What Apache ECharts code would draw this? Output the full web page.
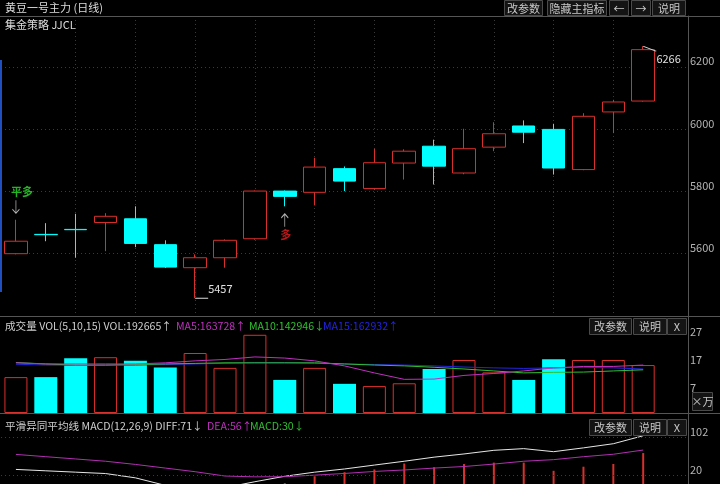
<!DOCTYPE html>
<html><head><meta charset="utf-8">
<script src="https://cdn.jsdelivr.net/npm/echarts@6/dist/echarts.min.js"></script>
<style>html,body{margin:0;padding:0;background:#000;}#c{width:720px;height:484px;}</style>
</head><body><div id="c"></div>
<script>
// ---------- data ----------
const categories = ['1','2','3','4','5','6','7','8','9','10','11','12','13','14','15','16','17','18','19','20','21','22'];
const openP  = [5600,5662,5678,5700,5712,5629,5555,5587,5648,5801,5797,5873,5809,5891,5945,5859,5942,6010,5999,5870,6055,6090];
const closeP = [5640,5661,5677,5720,5633,5557,5587,5643,5801,5784,5878,5833,5892,5929,5881,5937,5985,5990,5875,6041,6087,6255];
const lowP   = [5598,5640,5587,5608,5621,5554,5457,5555,5645,5752,5755,5801,5805,5838,5822,5855,5929,5955,5854,5868,5987,6088];
const highP  = [5709,5698,5728,5730,5752,5643,5598,5646,5803,5803,5908,5880,5937,5935,5966,6001,6022,6028,6017,6051,6094,6266];
const volume = [12.8,12.8,19.5,19.9,18.6,16.2,21.4,16.1,27.9,11.8,16.1,10.4,9.6,10.6,15.7,18.9,14.5,11.8,19.2,18.9,18.9,17.1];
const volMA5  = [17.9,17.5,17.5,17.5,17.5,17.9,18.6,19.1,20.0,19.6,18.6,16.8,14.3,12.0,12.1,13.4,14.1,15.0,16.1,16.6,16.6,17.1];
const volMA10 = [18.0,17.5,17.1,17.1,17.3,17.5,17.7,17.9,17.9,17.9,17.9,17.5,17.1,16.8,16.3,15.7,15.0,14.3,14.5,14.6,15.0,15.4];
const volMA15 = [17.4,17.1,17.0,17.0,17.1,17.3,17.5,17.7,17.9,17.9,17.7,17.5,17.3,17.1,16.8,16.4,16.1,15.9,16.1,16.3,16.1,15.7];
const diffV = [32,29,26,23,13.5,-3,-10,-8,5,17,26,33,41.6,50,59,66,74,77.7,71,79.4,88.5,106];
const deaV  = [65,60,55,50,43,35,27,17.5,15.7,16,19.4,23.2,27.6,30.8,35,38.4,43.8,50,53.5,60,65.4,74.6];
const macdV = [-64,-62,-58,-54,-59,-76,-74,-51,-21,2,17,26,32,45,37,44,47,47,29,38,44,68];
const priceTickStart = 5400, priceTickStep = 200;
const volTicks = [7,17,27];
const macdTicks = [20,102];
const signalIndex = [0, 9];
const signalText = ['平多', '多'];
const signalType = ['exit', 'long'];
const volHeader = ['成交量 VOL(5,10,15) VOL:192665↑', 'MA5:163728↑', 'MA10:142946↓', 'MA15:162932↑'];
const macdHeader = ['平滑异同平均线 MACD(12,26,9) DIFF:71↓', 'DEA:56↑', 'MACD:30↓'];

// ---------- styles ----------
const FONT = "'Microsoft YaHei','Noto Sans CJK SC','Noto Sans',sans-serif";
const UP = '#d8302c', DOWN = '#00ffff';
const MAG = '#c030c0', GRN = '#30c030', BLU = '#2424e0';
const GRIDC = '#3a3a3a', LINEC = '#555';
const xCats = categories.concat(['']);

const chart = echarts.init(document.getElementById('c'), null, {renderer: 'canvas'});

function xAx(gi, split) {
  return {
    type: 'category', gridIndex: gi, data: xCats, boundaryGap: true,
    axisLine: {show: false}, axisTick: {show: false}, axisLabel: {show: false},
    splitLine: split ? {
      show: true, alignWithLabel: true,
      interval: function (i) { return i > 0 && i % 2 === 0 && i < categories.length - 1; },
      lineStyle: {color: GRIDC, type: [1, 3], width: 1}
    } : {show: false}
  };
}
const axLabel = {color: '#b4b4b4', fontSize: 11, fontFamily: FONT, margin: 2, verticalAlign: 'bottom', formatter: v => String(v)};

function button(x, y, w, h, t) {
  return [
    {type: 'rect', shape: {x: x + 0.5, y: y + 0.5, width: w, height: h}, style: {fill: '#141414', stroke: '#4a4a4a', lineWidth: 1}, z: 100},
    {type: 'text', x: x + w / 2 + 0.5, y: y + h / 2 + 1, style: {text: t, fill: '#c8c8c8', font: '11px ' + FONT, textAlign: 'center', textVerticalAlign: 'middle'}, z: 101}
  ];
}
function hline(y, x1, x2, c) {
  return {type: 'line', shape: {x1: x1, y1: y + 0.5, x2: x2, y2: y + 0.5}, style: {stroke: c || LINEC, lineWidth: 1}, z: 90};
}
function txt(x, y, t, c, size) {
  return {type: 'text', x: x, y: y, style: {text: t, fill: c, font: (size || 11) + 'px ' + FONT, textVerticalAlign: 'middle'}, z: 101};
}
const HS = 10.6;

const graphics = [].concat(
  [hline(16, 0, 720), hline(316, 0, 720), hline(413, 0, 720)],
  [{type: 'rect', shape: {x: 0, y: 60, width: 2, height: 232}, style: {fill: '#2050c0'}, z: 90}],
  [txt(5, 8, '黄豆一号主力 (日线)', '#dcdcdc'), txt(5, 25, '集金策略 JJCL', '#dcdcdc')],
  button(504, 0, 38, 15, '改参数'), button(547, 0, 59, 15, '隐藏主指标'),
  button(609, 0, 19, 15, '←'), button(631, 0, 19, 15, '→'), button(652, 0, 33, 15, '说明'),
  [txt(5, 326, volHeader[0], '#cfcfcf', HS), txt(176, 326, volHeader[1], MAG, HS), txt(249, 326, volHeader[2], GRN, HS), txt(323, 326, volHeader[3], BLU, HS)],
  button(589, 318, 42, 16, '改参数'), button(633, 318, 33, 16, '说明'), button(667, 318, 19, 16, 'X'),
  button(692, 392, 20, 18, '×万'),
  [txt(5, 426, macdHeader[0], '#cfcfcf', HS), txt(207, 426, macdHeader[1], MAG, HS), txt(250, 426, macdHeader[2], GRN, HS)],
  button(589, 419, 42, 16, '改参数'), button(633, 419, 33, 16, '说明'), button(667, 419, 19, 16, 'X')
);

const candleData = categories.map((c, i) => [openP[i], closeP[i], lowP[i], highP[i]]);
const volData = categories.map((c, i) => ({
  value: volume[i],
  itemStyle: closeP[i] >= openP[i] ? {color: '#000', borderColor: UP, borderWidth: 1} : {color: DOWN, borderColor: DOWN, borderWidth: 0}
}));
const macdData = macdV.map(v => ({value: v, itemStyle: {color: v >= 0 ? UP : GRN}}));
const ARROW = 'path://M0,4 L4,0 L8,4 M4,0 L4,13';
const signalData = signalIndex.map((idx, k) => {
  const exit = signalType[k] === 'exit';
  return {
    value: [idx, exit ? highP[idx] : lowP[idx]],
    symbolRotate: exit ? 180 : 0,
    symbolOffset: [0, exit ? -13 : 14],
    label: {
      show: true, formatter: signalText[k], position: exit ? 'top' : 'bottom', distance: 2,
      offset: exit ? [6, 0] : [1, 0],
      color: exit ? '#30e030' : '#e02020', fontSize: 11, fontWeight: 'bold', fontFamily: FONT
    }
  };
});

const option = {
  backgroundColor: '#000',
  animation: false,
  textStyle: {fontFamily: FONT},
  grid: [
    {left: 1, right: 32, top: 16, height: 300},
    {left: 1, right: 32, top: 316, height: 97},
    {left: 1, right: 32, top: 413, height: 72.3}
  ],
  xAxis: [xAx(0, true), xAx(1, false), xAx(2, false)],
  yAxis: [
    {type: 'value', gridIndex: 0, position: 'right', min: priceTickStart, max: 6363, interval: priceTickStep,
     axisLine: {show: true, lineStyle: {color: LINEC}}, axisTick: {show: false},
     axisLabel: Object.assign({showMinLabel: false, showMaxLabel: false}, axLabel),
     splitLine: {show: true, lineStyle: {color: GRIDC, type: [1, 3]}}},
    {type: 'value', gridIndex: 1, position: 'right', min: 0, max: 34.6,
     axisLine: {show: true, lineStyle: {color: LINEC}}, axisTick: {show: false},
     axisLabel: Object.assign({customValues: volTicks}, axLabel),
     splitLine: {show: false}},
    {type: 'value', gridIndex: 2, position: 'right', min: 0, max: 156,
     axisLine: {show: true, lineStyle: {color: LINEC}}, axisTick: {show: false},
     axisLabel: Object.assign({customValues: macdTicks}, axLabel),
     splitLine: {show: false}}
  ],
  series: [
    {type: 'candlestick', xAxisIndex: 0, yAxisIndex: 0, data: candleData, barWidth: 23,
     itemStyle: {color: '#000', color0: DOWN, borderColor: UP, borderColor0: DOWN, borderWidth: 1},
     markPoint: {
       silent: true,
       data: [
         {type: 'max', valueDim: 'highest', symbol: 'path://M0,0 L13,5', symbolSize: [13, 5], symbolOffset: [6.5, 2.5],
          itemStyle: {color: 'rgba(0,0,0,0)', borderColor: '#ddd', borderWidth: 1},
          label: {show: true, position: [14, 7], color: '#e0e0e0', fontSize: 11, fontFamily: FONT, formatter: p => String(Math.round(p.value))}},
         {type: 'min', valueDim: 'lowest', symbol: 'path://M0,0 L12,0 L12,1 L0,1 Z', symbolSize: [13, 1], symbolOffset: [6.5, 0],
          itemStyle: {color: '#ddd'},
          label: {show: true, position: [13, -14], color: '#e0e0e0', fontSize: 11, fontFamily: FONT, formatter: p => String(Math.round(p.value))}}
       ]
     }},
    {type: 'scatter', xAxisIndex: 0, yAxisIndex: 0, data: signalData, symbol: ARROW, symbolSize: [7, 13],
     itemStyle: {color: 'rgba(0,0,0,0)', borderColor: '#e0e0e0', borderWidth: 1}, z: 5},
    {type: 'bar', xAxisIndex: 1, yAxisIndex: 1, data: volData, barWidth: 23},
    {type: 'line', xAxisIndex: 1, yAxisIndex: 1, data: volMA15, symbol: 'none', lineStyle: {color: BLU, width: 1}, z: 3},
    {type: 'line', xAxisIndex: 1, yAxisIndex: 1, data: volMA10, symbol: 'none', lineStyle: {color: GRN, width: 1}, z: 3},
    {type: 'line', xAxisIndex: 1, yAxisIndex: 1, data: volMA5, symbol: 'none', lineStyle: {color: MAG, width: 1}, z: 3},
    {type: 'bar', xAxisIndex: 2, yAxisIndex: 2, data: macdData, barWidth: 2},
    {type: 'line', xAxisIndex: 2, yAxisIndex: 2, data: diffV, symbol: 'none', lineStyle: {color: '#e6e6e6', width: 1}, z: 3,
     markLine: {silent: true, symbol: 'none', label: {show: false}, lineStyle: {color: GRIDC, type: [1, 3], width: 1},
                data: macdTicks.map(v => ({yAxis: v}))}},
    {type: 'line', xAxisIndex: 2, yAxisIndex: 2, data: deaV, symbol: 'none', lineStyle: {color: '#b030b0', width: 1}, z: 3}
  ],
  graphic: graphics
};
chart.setOption(option);
</script></body></html>
